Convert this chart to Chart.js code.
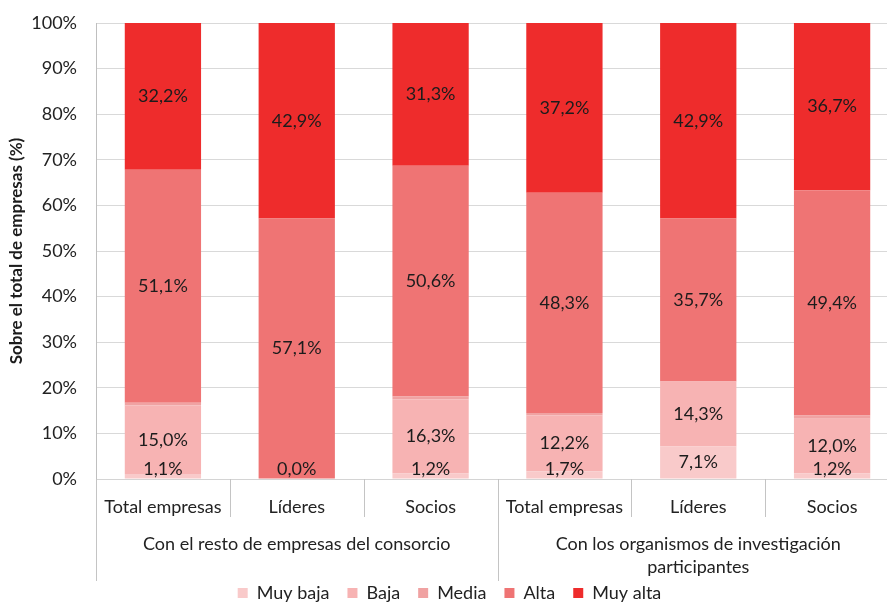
<!DOCTYPE html>
<html>
<head>
<meta charset="utf-8">
<script src="https://cdn.jsdelivr.net/npm/chart.js@4/dist/chart.umd.min.js"></script>
<style>
  html, body { margin: 0; padding: 0; background: #fff; overflow: hidden; }
  #wrap { width: 900px; height: 612px; }
</style>
</head>
<body>
<div id="wrap"><canvas id="chart"></canvas></div>
<script>
// categories and the two groups under them
const categories = ["Total empresas", "Líderes", "Socios", "Total empresas", "Líderes", "Socios"];
const groupLabels = [
    ["Con el resto de empresas del consorcio"],
    ["Con los organismos de investigación", "participantes"]
];
const groupSize = 3;

// % of companies per level
const muyBaja = [1.1, 0.0, 1.2, 1.7, 7.1, 1.2];
const baja    = [15.0, 0.0, 16.3, 12.2, 14.3, 12.0];
const media   = [0.6, 0.0, 0.6, 0.6, 0.0, 0.7];   // no label in the original
const alta    = [51.1, 57.1, 50.6, 48.3, 35.7, 49.4];
const muyAlta = [32.2, 42.9, 31.3, 37.2, 42.9, 36.7];

const yMax = 100;
const yStep = 10;

const FONT = "Lato";
const textColor = "#222222";

const fmt = v => v.toFixed(1).replace(".", ",") + "%";

// value labels inside the segments
const segmentLabels = {
    id: "segmentLabels",
    afterDatasetsDraw(chart) {
        const ctx = chart.ctx;
        const bottom = chart.chartArea.bottom;
        ctx.save();
        ctx.font = `18px ${FONT}`;
        ctx.fillStyle = "#1c1c1c";
        ctx.textAlign = "center";
        ctx.textBaseline = "middle";
        chart.data.datasets.forEach((ds, di) => {
            if (ds.noLabels) return;
            chart.getDatasetMeta(di).data.forEach((bar, i) => {
                const v = ds.data[i];
                if (v === 0 && di > 0) return;
                const y = Math.min((bar.y + bar.base) / 2, bottom - 10);
                ctx.fillText(fmt(v), bar.x, y);
            });
        });
        ctx.restore();
    }
};

// separators and group labels under the x axis
const groupAxis = {
    id: "groupAxis",
    afterDraw(chart) {
        const {ctx, chartArea, scales: {x}} = chart;
        const edge = i => x.getPixelForValue(i - 0.5);
        ctx.save();
        ctx.strokeStyle = "#c4c4c4";
        ctx.lineWidth = 1;
        for (let i = 0; i <= categories.length; i++) {
            const px = Math.round(edge(i)) + 0.5;
            const long = i % groupSize === 0;
            ctx.beginPath();
            ctx.moveTo(px, chartArea.bottom);
            ctx.lineTo(px, chartArea.bottom + (long ? 102 : 38));
            ctx.stroke();
        }
        ctx.font = `18px ${FONT}`;
        ctx.fillStyle = textColor;
        ctx.textAlign = "center";
        ctx.textBaseline = "middle";
        groupLabels.forEach((lines, g) => {
            const cx = (edge(g * groupSize) + edge((g + 1) * groupSize)) / 2;
            lines.forEach((t, k) => ctx.fillText(t, cx, chartArea.bottom + 65 + k * 23));
        });
        ctx.restore();
    }
};

new Chart(document.getElementById("chart"), {
    type: "bar",
    data: {
        labels: categories,
        datasets: [
            {label: "Muy baja", data: muyBaja, backgroundColor: "#F9CACA"},
            {label: "Baja",     data: baja,    backgroundColor: "#F7B3B3"},
            {label: "Media",    data: media,   backgroundColor: "#F0A2A2", noLabels: true},
            {label: "Alta",     data: alta,    backgroundColor: "#EF7474"},
            {label: "Muy alta", data: muyAlta, backgroundColor: "#EE2C2C"},
        ],
    },
    options: {
        responsive: true,
        maintainAspectRatio: false,
        animation: false,
        datasets: {
            bar: {barPercentage: 0.57, categoryPercentage: 1, borderWidth: 0}
        },
        layout: {padding: {top: 23, right: 1, bottom: 0, left: 0}},
        plugins: {
            tooltip: {enabled: false},
            legend: {
                position: "bottom",
                labels: {
                    boxWidth: 10,
                    boxHeight: 10,
                    padding: 18,
                    color: textColor,
                    font: {family: FONT, size: 18},
                }
            }
        },
        scales: {
            x: {
                stacked: true,
                grid: {display: false},
                border: {color: "#d4d4d4"},
                ticks: {padding: 9, color: textColor, font: {family: FONT, size: 18}, maxRotation: 0},
                afterFit: s => { s.height = 87; }
            },
            y: {
                stacked: true,
                min: 0,
                max: yMax,
                ticks: {
                    stepSize: yStep,
                    padding: 19,
                    color: textColor,
                    font: {family: FONT, size: 18},
                    callback: v => v + "%"
                },
                grid: {color: "#d9d9d9", drawTicks: false},
                border: {color: "#bfbfbf"},
                title: {
                    display: true,
                    text: "Sobre el total de empresas (%)",
                    color: "#1c1c1c",
                    font: {family: FONT, size: 17, weight: "bold"},
                    padding: {top: 6, bottom: 0}
                },
                afterFit: s => { s.width = 96; s.paddingTop = 0; s.paddingBottom = 0; }
            }
        }
    },
    plugins: [segmentLabels, groupAxis]
});
</script>
</body>
</html>
